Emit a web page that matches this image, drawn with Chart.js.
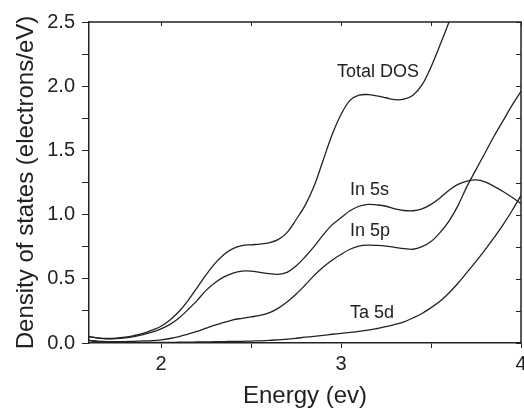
<!DOCTYPE html>
<html>
<head>
<meta charset="utf-8">
<script src="https://cdn.jsdelivr.net/npm/chart.js@4.4.1/dist/chart.umd.min.js"></script>
<style>
  body { margin: 0; background: #fff; }
  canvas { display: block; }
</style>
</head>
<body>
<canvas id="grafico" width="524" height="410"></canvas>
<script>
// energias (eV), paso 0.05, y densidades de estados
var energias = [1.60, 1.65, 1.70, 1.75, 1.80, 1.85, 1.90, 1.95, 2.00, 2.05,
                2.10, 2.15, 2.20, 2.25, 2.30, 2.35, 2.40, 2.45, 2.50, 2.55,
                2.60, 2.65, 2.70, 2.75, 2.80, 2.85, 2.90, 2.95, 3.00, 3.05,
                3.10, 3.15, 3.20, 3.25, 3.30, 3.35, 3.40, 3.45, 3.50, 3.55,
                3.60, 3.65, 3.70, 3.75, 3.80, 3.85, 3.90, 3.95, 4.00];
var totalDOS = [0.05, 0.04, 0.035, 0.037, 0.045, 0.058, 0.075, 0.10, 0.13, 0.18,
                0.245, 0.33, 0.43, 0.53, 0.62, 0.69, 0.735, 0.758, 0.765, 0.77,
                0.78, 0.805, 0.86, 0.96, 1.07, 1.22, 1.42, 1.62, 1.78, 1.89,
                1.93, 1.935, 1.925, 1.91, 1.895, 1.90, 1.93, 2.01, 2.15, 2.32,
                2.50, 2.70, 2.90, null, null, null, null, null, null];
var in5s = [0.05, 0.038, 0.032, 0.034, 0.04, 0.05, 0.065, 0.085, 0.11, 0.145,
            0.195, 0.26, 0.33, 0.41, 0.47, 0.515, 0.545, 0.56, 0.56, 0.55,
            0.54, 0.535, 0.55, 0.60, 0.67, 0.75, 0.84, 0.92, 0.975, 1.03,
            1.065, 1.08, 1.075, 1.065, 1.045, 1.032, 1.03, 1.045, 1.08, 1.13,
            1.19, 1.235, 1.26, 1.27, 1.255, 1.22, 1.18, 1.135, 1.085];
var in5p = [0.02, 0.014, 0.011, 0.01, 0.011, 0.013, 0.016, 0.019, 0.025, 0.035,
            0.05, 0.07, 0.09, 0.115, 0.14, 0.16, 0.18, 0.192, 0.203, 0.215,
            0.235, 0.27, 0.32, 0.38, 0.45, 0.525, 0.59, 0.645, 0.69, 0.73,
            0.755, 0.762, 0.76, 0.755, 0.745, 0.735, 0.73, 0.75, 0.79, 0.86,
            0.95, 1.07, 1.22, 1.35, 1.48, 1.61, 1.73, 1.85, 1.96];
var ta5d = [0.02, 0.008, 0.004, 0.003, 0.003, 0.003, 0.004, 0.004, 0.005, 0.005,
            0.006, 0.007, 0.008, 0.009, 0.01, 0.011, 0.012, 0.013, 0.015, 0.017,
            0.02, 0.025, 0.03, 0.037, 0.045, 0.052, 0.06, 0.068, 0.075, 0.082,
            0.09, 0.10, 0.113, 0.127, 0.145, 0.165, 0.195, 0.23, 0.275, 0.325,
            0.39, 0.465, 0.55, 0.635, 0.725, 0.82, 0.92, 1.03, 1.15];

var ticksX = [2, 2.5, 3, 3.5, 4];
var ticksY = [0, 0.25, 0.5, 0.75, 1, 1.25, 1.5, 1.75, 2, 2.25, 2.5];

// etiquetas de las curvas (posicion en unidades de datos, linea base del texto)
var etiquetas = ['Total DOS', 'In 5s', 'In 5p', 'Ta 5d'];
var etiquetasX = [2.978, 3.05, 3.05, 3.05];
var etiquetasY = [2.07, 1.156, 0.836, 0.195];

var negro = '#222';
var fuente = '"Liberation Sans", Arial, sans-serif';

function serie(valores) {
    return {
        data: energias.map(function(e, i) { return { x: e, y: valores[i] }; }),
        borderColor: negro,
        borderWidth: 1.3,
        pointRadius: 0,
        fill: false,
        tension: 0.35,
        spanGaps: false
    };
}

var marco = {
    id: 'marco',
    afterDraw: function(chart) {
        var ctx = chart.ctx;
        var a = chart.chartArea;
        var sx = chart.scales.x, sy = chart.scales.y;
        ctx.save();
        ctx.strokeStyle = negro;
        ctx.lineWidth = 1.5;
        ctx.beginPath();
        ctx.moveTo(a.left, a.top);
        ctx.lineTo(a.right, a.top);
        ctx.lineTo(a.right, a.bottom);
        ctx.stroke();
        ctx.lineWidth = 1;
        ctx.beginPath();
        ticksX.forEach(function(v) {
            var px = Math.round(sx.getPixelForValue(v)) + 0.5;
            ctx.moveTo(px, a.top);
            ctx.lineTo(px, a.top + 4);
        });
        ticksY.forEach(function(v) {
            var py = Math.round(sy.getPixelForValue(v)) + 0.5;
            ctx.moveTo(a.right, py);
            ctx.lineTo(a.right - 5, py);
        });
        ctx.stroke();

        ctx.fillStyle = negro;
        ctx.font = '18px ' + fuente;
        ctx.textBaseline = 'alphabetic';
        etiquetas.forEach(function(t, i) {
            ctx.fillText(t, sx.getPixelForValue(etiquetasX[i]), sy.getPixelForValue(etiquetasY[i]));
        });
        ctx.restore();
    }
};

var ctx = document.getElementById('grafico').getContext('2d');
var myChart = new Chart(ctx, {
    type: 'line',
    data: {
        datasets: [serie(totalDOS), serie(in5s), serie(in5p), serie(ta5d)]
    },
    options: {
        responsive: false,
        animation: false,
        layout: { padding: { top: 22, right: 3, left: 0, bottom: 0 } },
        plugins: {
            legend: { display: false },
            tooltip: { enabled: false }
        },
        scales: {
            x: {
                type: 'linear',
                min: 1.6,
                max: 4,
                afterBuildTicks: function(scale) {
                    scale.ticks = ticksX.map(function(v) { return { value: v }; });
                },
                afterFit: function(scale) {
                    scale.height = 67;
                    scale.paddingLeft = 0;
                    scale.paddingRight = 0;
                },
                grid: { drawOnChartArea: false, tickLength: 5, color: negro },
                border: { color: negro, width: 1.5 },
                ticks: {
                    color: negro,
                    font: { family: fuente, size: 20 },
                    padding: 4,
                    maxRotation: 0,
                    autoSkip: false,
                    callback: function(v) { return Number.isInteger(v) ? String(v) : ''; }
                },
                title: {
                    display: true,
                    text: 'Energy (ev)',
                    color: negro,
                    font: { family: fuente, size: 24 },
                    padding: { top: 0, bottom: -1 }
                }
            },
            y: {
                min: 0,
                max: 2.5,
                afterBuildTicks: function(scale) {
                    scale.ticks = ticksY.map(function(v) { return { value: v }; });
                },
                afterFit: function(scale) { scale.width = 89; },
                grid: { drawOnChartArea: false, tickLength: 7, color: negro },
                border: { color: negro, width: 1.5 },
                ticks: {
                    color: negro,
                    font: { family: fuente, size: 20 },
                    padding: 7,
                    autoSkip: false,
                    callback: function(v) { return (Math.round(v * 100) % 50 === 0) ? v.toFixed(1) : ''; }
                },
                title: {
                    display: true,
                    text: 'Density of states (electrons/eV)',
                    color: negro,
                    font: { family: fuente, size: 24 },
                    padding: { top: 12, bottom: 0 }
                }
            }
        }
    },
    plugins: [marco]
});
</script>
</body>
</html>
